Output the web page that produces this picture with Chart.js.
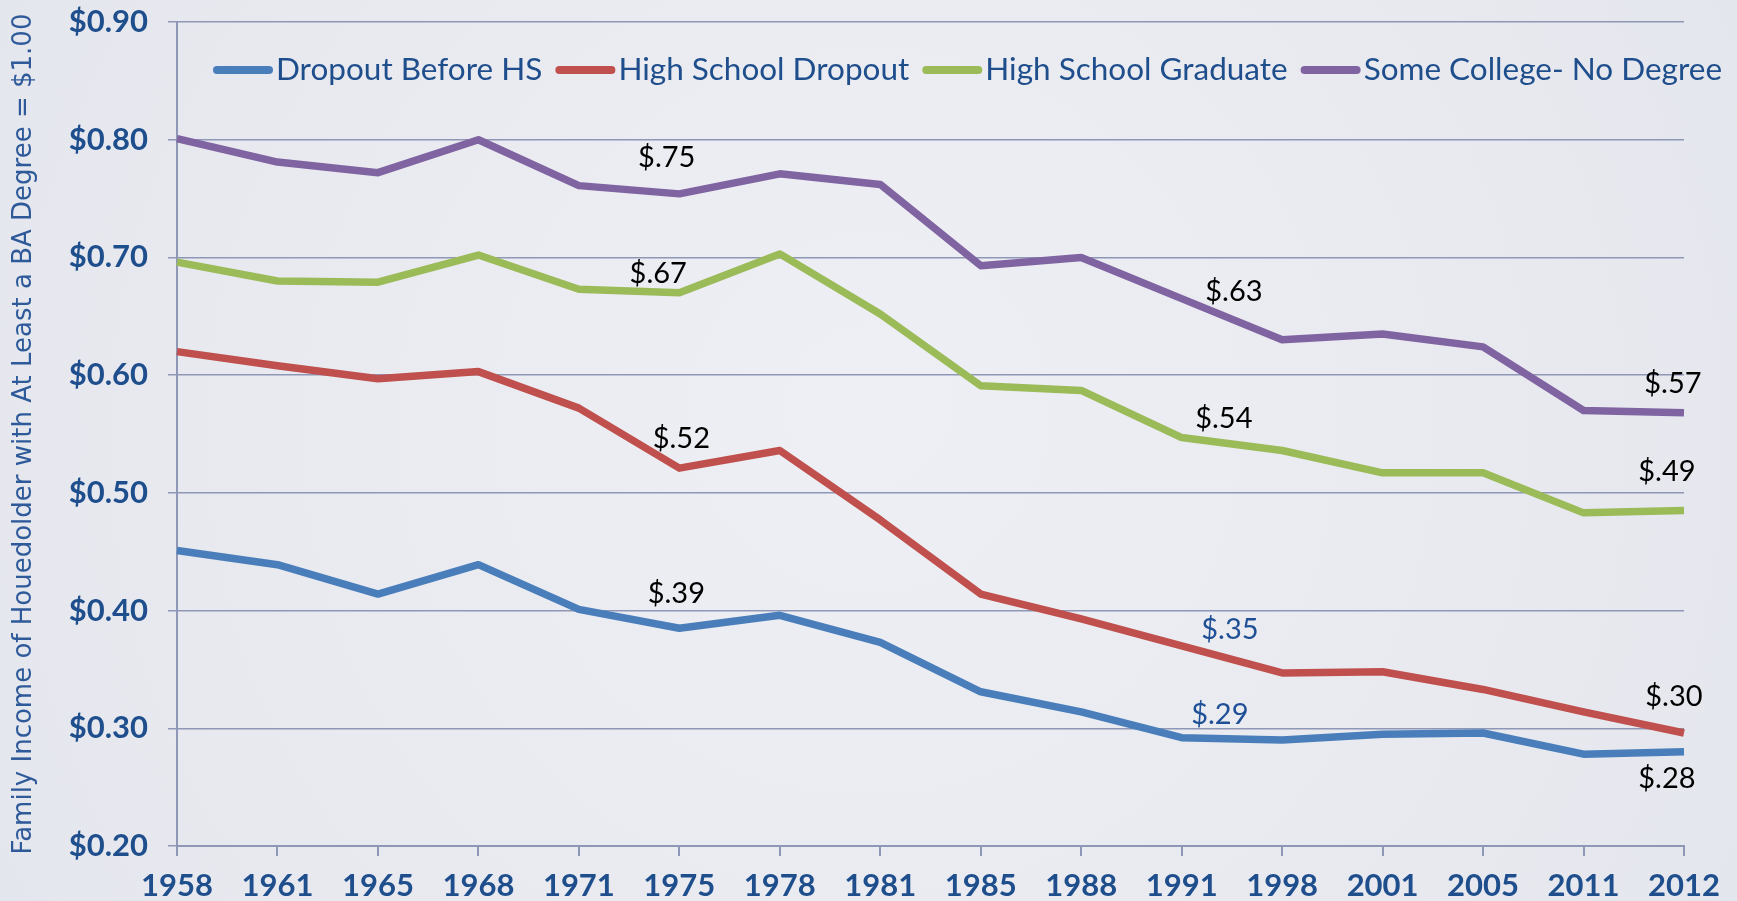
<!DOCTYPE html>
<html><head><meta charset="utf-8">
<script src="https://cdn.jsdelivr.net/npm/chart.js@4/dist/chart.umd.min.js"></script>
<style>
html,body{margin:0;padding:0;background:#E9EAF0;}
#wrap{width:1737px;height:901px;position:relative;}
canvas{display:block}
</style></head><body>
<div id="wrap"><canvas id="c" width="1737" height="901"></canvas></div>
<script>
// ---- data ----
const years = ['1958','1961','1965','1968','1971','1975','1978','1981','1985','1988','1991','1998','2001','2005','2011','2012'];
const dropoutBeforeHS   = [0.451,0.439,0.414,0.439,0.401,0.385,0.396,0.373,0.331,0.314,0.292,0.290,0.295,0.296,0.278,0.280];
const highSchoolDropout = [0.620,0.608,0.597,0.603,0.572,0.521,0.536,0.477,0.414,0.393,0.370,0.347,0.348,0.333,0.314,0.296];
const highSchoolGrad    = [0.696,0.680,0.679,0.702,0.673,0.670,0.703,0.652,0.591,0.587,0.547,0.536,0.517,0.517,0.483,0.485];
const someCollege       = [0.801,0.781,0.772,0.800,0.761,0.754,0.771,0.762,0.693,0.700,0.665,0.630,0.635,0.624,0.570,0.568];
const seriesNames = ['Dropout Before HS','High School Dropout','High School Graduate','Some College- No Degree'];
const yTickLabels = ['$0.20','$0.30','$0.40','$0.50','$0.60','$0.70','$0.80','$0.90'];
const yTitle = 'Family Income of Houedolder with At Least a BA Degree = $1.00';
// value callouts: text, category position, value position
const calloutText = ['$.75','$.67','$.52','$.39','$.63','$.54','$.35','$.29','$.57','$.49','$.30','$.28'];
const calloutIdx  = [4.875,4.79,5.02,4.97,10.52,10.42,10.48,10.38,14.89,14.83,14.90,14.83];
const calloutVal  = [0.785,0.686,0.546,0.414,0.671,0.563,0.384,0.312,0.593,0.518,0.327,0.257];
const calloutBlue = [false,false,false,false,false,false,true,true,false,false,false,false];

// ---- styles ----
const colors = ['#4A7EBB','#C0504D','#9BBB59','#8064A2'];
const gridColor = '#8E98B6';
const textBlue = '#1F4E8C';

const bgPlugin = {
  id:'bg',
  beforeDraw(chart){
    const {ctx,width,height} = chart;
    ctx.save();
    const g = ctx.createRadialGradient(width*0.5,height*0.45,50,width*0.5,height*0.5,width*0.6);
    g.addColorStop(0,'#EEEFF4');
    g.addColorStop(1,'#E4E6ED');
    ctx.fillStyle = g;
    ctx.fillRect(0,0,width,height);
    ctx.restore();
  }
};

const calloutPlugin = {
  id:'callouts',
  afterDatasetsDraw(chart){
    const {ctx} = chart;
    const xs = chart.scales.x, ys = chart.scales.y;
    ctx.save();
    ctx.font = '400 29px Lato, "Open Sans", sans-serif';
    ctx.textAlign = 'center';
    ctx.textBaseline = 'middle';
    calloutText.forEach((t,i)=>{
      ctx.fillStyle = calloutBlue[i] ? '#1F5096' : '#000000';
      ctx.fillText(t, xs.getPixelForValue(calloutIdx[i]), ys.getPixelForValue(calloutVal[i]));
    });
    ctx.restore();
  }
};

const legendPlugin = {
  id:'customLegend',
  afterDraw(chart){
    const {ctx} = chart;
    ctx.save();
    ctx.font = '400 31.5px Lato, "Open Sans", sans-serif';
    ctx.textBaseline = 'middle';
    ctx.textAlign = 'left';
    let x = 217;
    const y = 70;
    const markW = 52, gapText = 3, gapItem = 13;
    chart.data.datasets.forEach((ds,i)=>{
      ctx.strokeStyle = ds.borderColor;
      ctx.lineWidth = 8;
      ctx.lineCap = 'round';
      ctx.beginPath();
      ctx.moveTo(x, y);
      ctx.lineTo(x+markW, y);
      ctx.stroke();
      x += markW + 4 + gapText;
      ctx.fillStyle = textBlue;
      ctx.fillText(ds.label, x, y);
      x += ctx.measureText(ds.label).width + gapItem + 4;
    });
    ctx.restore();
  }
};

const mk = (label,data,color)=>({
  label, data, borderColor:color, backgroundColor:color,
  borderWidth:7.5, pointRadius:0, pointHoverRadius:0, tension:0,
  borderJoinStyle:'round', borderCapStyle:'butt', fill:false
});

new Chart(document.getElementById('c'), {
  type:'line',
  data:{
    labels: years,
    datasets:[
      mk(seriesNames[0], dropoutBeforeHS, colors[0]),
      mk(seriesNames[1], highSchoolDropout, colors[1]),
      mk(seriesNames[2], highSchoolGrad, colors[2]),
      mk(seriesNames[3], someCollege, colors[3])
    ]
  },
  options:{
    responsive:false, animation:false, devicePixelRatio:1,
    layout:{padding:{top:22,right:53,left:0,bottom:0}},
    plugins:{legend:{display:false}, tooltip:{enabled:false}},
    scales:{
      x:{
        offset:false,
        grid:{drawOnChartArea:false, drawTicks:true, tickLength:10, color:gridColor, lineWidth:2},
        border:{color:gridColor, width:2},
        ticks:{color:textBlue, font:{family:'Lato, "Open Sans", sans-serif', size:31, weight:'bold'}, padding:11, maxRotation:0, autoSkip:false},
        afterFit(s){ s.height = 55; s.paddingLeft = 0; s.paddingRight = 0; }
      },
      y:{
        min:0.2, max:0.9,
        grid:{color:gridColor, lineWidth:1.5, tickLength:9, drawTicks:true},
        border:{color:gridColor, width:2},
        ticks:{stepSize:0.1, color:textBlue, padding:20,
          font:{family:'Lato, "Open Sans", sans-serif', size:31, weight:'bold'},
          callback:(v,i)=>yTickLabels[i]},
        title:{display:true, text:yTitle, color:'#2F5A9A', padding:{top:9,bottom:0},
          font:{family:'"DejaVu Sans", sans-serif', size:26, weight:'normal'}},
        afterFit(s){ s.width = 177; s.paddingTop = 0; s.paddingBottom = 0; }
      }
    }
  },
  plugins:[bgPlugin, calloutPlugin, legendPlugin]
});
</script>
</body></html>
